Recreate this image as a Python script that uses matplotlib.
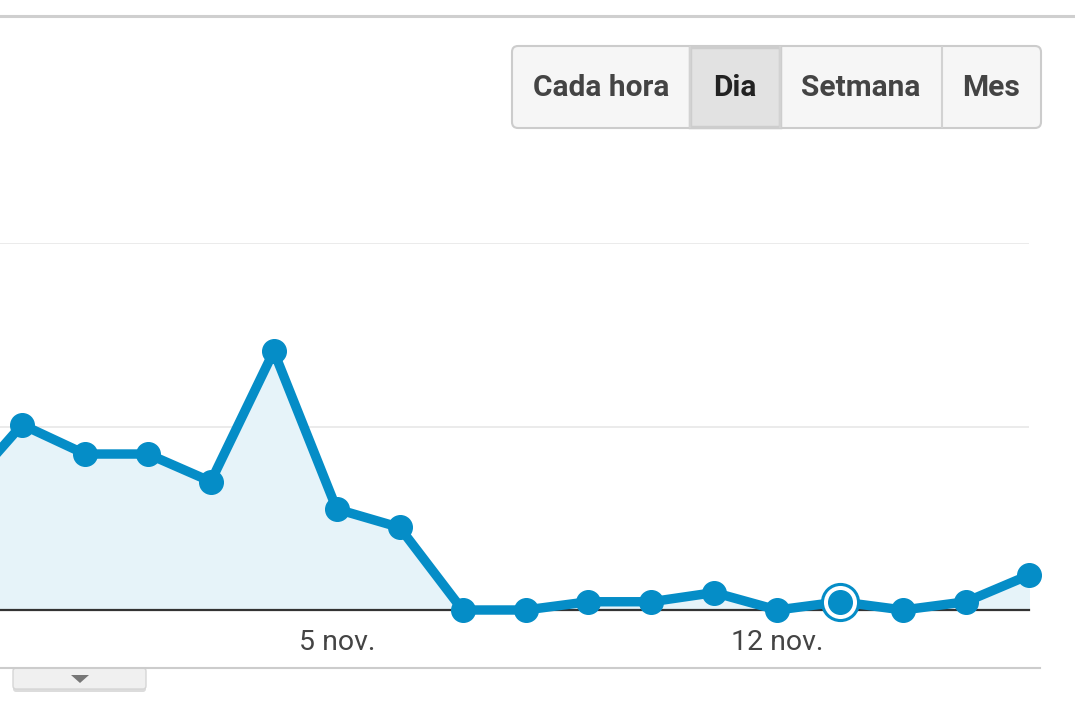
import matplotlib
matplotlib.use("Agg")
import matplotlib.pyplot as plt
from matplotlib.patches import FancyBboxPatch, Rectangle, Polygon

plt.rcParams['font.family'] = ['Roboto', 'DejaVu Sans']

# daily values, 30 oct. .. 16 nov. (first point is cut off at the left edge)
days = list(range(-1, 17))
values = [6.2, 10.1, 8.5, 8.5, 7.0, 14.1, 5.5, 4.5, 0, 0, 0.45, 0.45, 0.95, 0, 0.45, 0, 0.45, 1.9]
tick_pos = [5, 12]
tick_labels = ['5 nov.', '12 nov.']
highlight = 13
buttons = ['Cada hora', 'Dia', 'Setmana', 'Mes']
selected = 'Dia'

W, H = 1075, 713
fig = plt.figure(figsize=(W / 100, H / 100), dpi=100)

# overlay in pixel coordinates for the page furniture
bg = fig.add_axes([0, 0, 1, 1])
bg.set_xlim(0, W)
bg.set_ylim(H, 0)
bg.axis('off')

bg.plot([0, W], [16, 16], color='#cfcfcf', lw=2.2)
bg.plot([0, 1040], [668, 668], color='#cccccc', lw=1.5)

# little tab under the chart
bg.add_patch(FancyBboxPatch((13, 669), 133, 23, boxstyle='round,pad=0,rounding_size=3',
                            fc='#dcdcdc', ec='none', lw=0))
bg.add_patch(FancyBboxPatch((13, 668), 133, 21, boxstyle='round,pad=0,rounding_size=3',
                            fc='#f0f0f0', ec='#d6d6d6', lw=1.0))
bg.add_patch(Polygon([[71, 675], [89, 675], [80, 683]], closed=True, fc='#777777', ec='none'))

# button group
edges = [512, 690, 780, 942, 1041]
bg.add_patch(FancyBboxPatch((512, 46), 529, 82, boxstyle='round,pad=0,rounding_size=6',
                            fc='#f6f6f6', ec='#cccccc', lw=1.5, zorder=1))
for i, name in enumerate(buttons):
    x0, x1 = edges[i], edges[i + 1]
    if name == selected:
        bg.add_patch(Rectangle((x0, 47), x1 - x0, 80, fc='#e2e2e2', ec='#cdcdcd', lw=2.5, zorder=2))
    if 0 < i:
        bg.plot([x0, x0], [47, 127], color='#d2d2d2', lw=1.5, zorder=3)
    bg.text((x0 + x1) / 2, 88, name, ha='center', va='center', fontsize=21.5,
            fontweight='bold', color='#222222' if name == selected else '#444444', zorder=4)

# chart area: x from 0 to 1029 px, y=0 at 610 px, y=20 at 243 px
ax = fig.add_axes([0, (H - 610) / H, 1029 / W, (610 - 243) / H])
ax.set_xlim(-0.35, 16.0)
ax.set_ylim(0, 20)
ax.patch.set_alpha(0)

for s in ['top', 'right', 'left']:
    ax.spines[s].set_visible(False)
ax.spines['bottom'].set_color('#333333')
ax.spines['bottom'].set_linewidth(1.6)

ax.set_yticks([10, 20])
ax.set_yticklabels([])
ax.tick_params(axis='y', length=0)
ax.grid(axis='y', color='#e8e8e8', lw=1.2)
ax.set_axisbelow(True)

ax.set_xticks(tick_pos)
ax.set_xticklabels(tick_labels, fontsize=20.5, color='#444444')
ax.tick_params(axis='x', length=0, pad=14)

ax.fill_between(days, values, 0, color='#e6f3f9', zorder=1)
ax.plot(days, values, color='#058dc7', lw=6.8, marker='o', ms=17, mec='#058dc7',
        mfc='#058dc7', zorder=4, clip_on=False, solid_joinstyle='round')

hx, hy = days[days.index(highlight)], values[days.index(highlight)]
ax.plot([hx], [hy], marker='o', ms=26, mfc='white', mec='#058dc7', mew=2.2, zorder=5, clip_on=False)
ax.plot([hx], [hy], marker='o', ms=17, mfc='#058dc7', mec='#058dc7', zorder=6, clip_on=False)

fig.savefig('out.png', dpi=100)
